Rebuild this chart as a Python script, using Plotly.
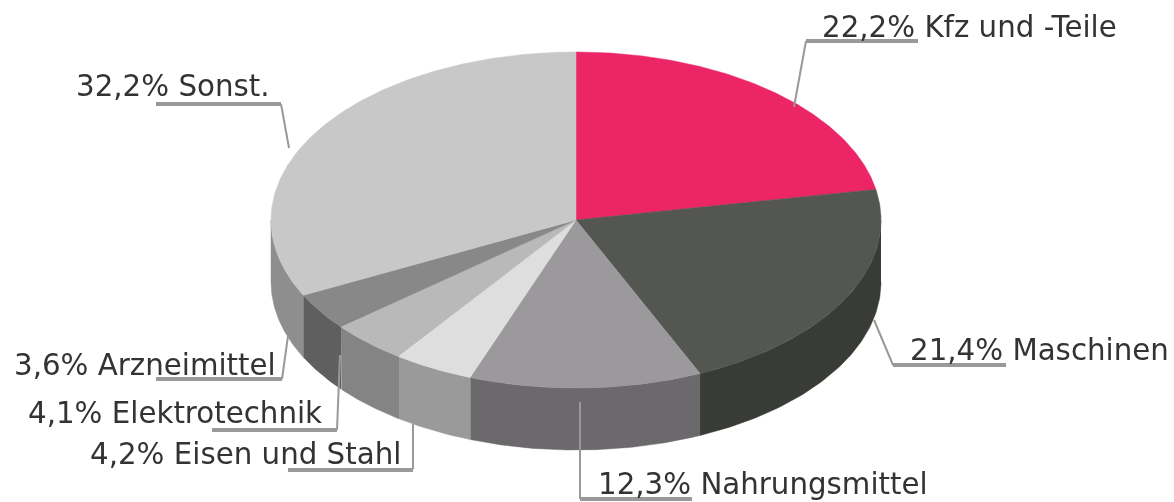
import numpy as np
import plotly.graph_objects as go

names = ["Kfz und -Teile", "Maschinen", "Nahrungsmittel", "Eisen und Stahl",
         "Elektrotechnik", "Arzneimittel", "Sonst."]
shares = [22.2, 21.4, 12.3, 4.2, 4.1, 3.6, 32.2]
top_colors = ["#EB2566", "#545651", "#9B999C", "#DEDEDE", "#B9B9B9", "#888888", "#C8C8C8"]
wall_colors = ["#EB2566", "#393B37", "#6B696C", "#9A9A9A", "#848484", "#5F5F5F", "#8E8E8E"]

CX, CY, RX, RY, DEPTH = 576, 220, 305, 168, 62
SKEW = np.radians(1.0)  # the original projection lags slightly at the front of the pie

label_pos = [(822, 30), (910, 353), (598, 487), (90, 457), (28, 416), (14, 368), (76, 89)]
leaders = [
    [(794, 107), (806, 41)], [(874, 320), (893, 365)], [(580, 402), (580, 499)],
    [(413, 424), (413, 469)], [(340, 355), (337, 430)], [(288, 336), (282, 379)], [(289, 148), (281, 104)],
]
shelves = [
    [(806, 41), (918, 41)], [(893, 365), (1006, 365)], [(580, 499), (692, 499)],
    [(288, 470), (413, 470)], [(212, 430), (337, 430)], [(156, 379), (282, 379)], [(156, 104), (281, 104)],
]


def rim(t):
    return CX + RX * np.sin(t), CY - RY * np.cos(t)


fig = go.Figure()
edges = np.concatenate([[0], np.cumsum(shares)]) / sum(shares) * 2 * np.pi
edges = edges - SKEW * np.sin(edges / 2) ** 2

# side walls: only the front half of the rim is visible
for i in range(len(shares)):
    a, b = max(edges[i], np.pi / 2), min(edges[i + 1], 3 * np.pi / 2)
    if b <= a:
        continue
    x, y = rim(np.linspace(a, b, 80))
    fig.add_trace(go.Scatter(
        x=np.concatenate([x, x[::-1]]), y=np.concatenate([y, y[::-1] + DEPTH]),
        mode="lines", fill="toself", fillcolor=wall_colors[i],
        line=dict(color=wall_colors[i], width=0.5), hoverinfo="skip", showlegend=False))

# top faces
for i in range(len(shares)):
    x, y = rim(np.linspace(edges[i], edges[i + 1], 160))
    fig.add_trace(go.Scatter(
        x=np.concatenate([[CX], x, [CX]]), y=np.concatenate([[CY], y, [CY]]),
        mode="lines", fill="toself", fillcolor=top_colors[i],
        line=dict(color=top_colors[i], width=0.5), hoverinfo="skip", showlegend=False))

for seg in leaders:
    fig.add_trace(go.Scatter(x=[p[0] for p in seg], y=[p[1] for p in seg], mode="lines",
                             line=dict(color="#999999", width=2), hoverinfo="skip", showlegend=False))
for seg in shelves:
    fig.add_trace(go.Scatter(x=[p[0] for p in seg], y=[p[1] for p in seg], mode="lines",
                             line=dict(color="#999999", width=4), hoverinfo="skip", showlegend=False))

labels = [f"{v:.1f}%".replace(".", ",") + " " + n for v, n in zip(shares, names)]
fig.add_trace(go.Scatter(
    x=[p[0] for p in label_pos], y=[p[1] for p in label_pos], text=labels,
    mode="text", textposition="middle right", cliponaxis=False,
    textfont=dict(family="DejaVu Sans", size=29.3, color="#333333"),
    hoverinfo="skip", showlegend=False))

fig.update_layout(
    width=1174, height=502, margin=dict(l=0, r=0, t=0, b=0),
    paper_bgcolor="white", plot_bgcolor="white", showlegend=False,
    xaxis=dict(range=[0, 1174], visible=False, fixedrange=True),
    yaxis=dict(range=[502, 0], visible=False, fixedrange=True),
)
fig.write_html("out.html", config=dict(displayModeBar=False),
               post_script="document.body.style.margin='0';document.documentElement.style.overflow='hidden';"
                           "document.querySelector('.plotly-graph-div').style.filter='blur(0.6px)';")
